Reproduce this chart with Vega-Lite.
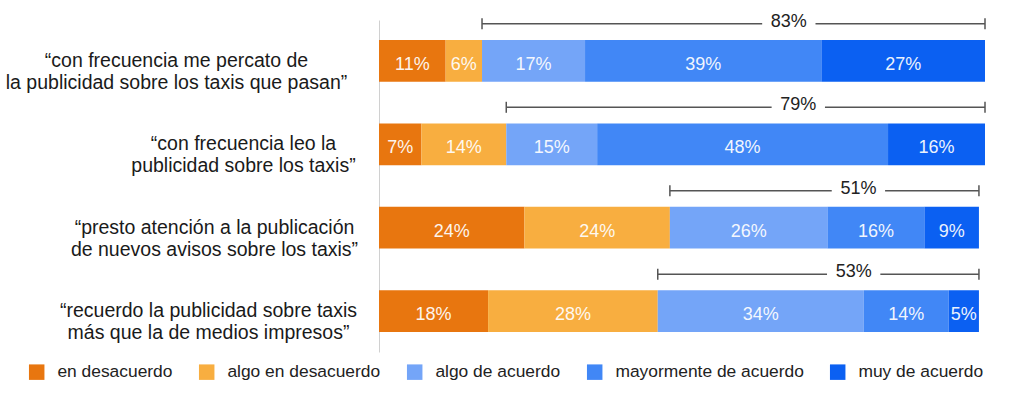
{
  "$schema": "https://vega.github.io/schema/vega-lite/v6.json",
  "width": 606,
  "height": 332,
  "autosize": {"type": "none"},
  "padding": {"left": 379, "top": 20, "right": 39, "bottom": 46},
  "background": "white",
  "config": {"view": {"stroke": null}, "font": "Liberation Sans"},
  "data": {"values": [
    {"question": "“con frecuencia me percato de|la publicidad sobre los taxis que pasan”", "category": "en desacuerdo", "order": 1, "value": 11},
    {"question": "“con frecuencia me percato de|la publicidad sobre los taxis que pasan”", "category": "algo en desacuerdo", "order": 2, "value": 6},
    {"question": "“con frecuencia me percato de|la publicidad sobre los taxis que pasan”", "category": "algo de acuerdo", "order": 3, "value": 17},
    {"question": "“con frecuencia me percato de|la publicidad sobre los taxis que pasan”", "category": "mayormente de acuerdo", "order": 4, "value": 39},
    {"question": "“con frecuencia me percato de|la publicidad sobre los taxis que pasan”", "category": "muy de acuerdo", "order": 5, "value": 27},
    {"question": "“con frecuencia leo la|publicidad sobre los taxis”", "category": "en desacuerdo", "order": 1, "value": 7},
    {"question": "“con frecuencia leo la|publicidad sobre los taxis”", "category": "algo en desacuerdo", "order": 2, "value": 14},
    {"question": "“con frecuencia leo la|publicidad sobre los taxis”", "category": "algo de acuerdo", "order": 3, "value": 15},
    {"question": "“con frecuencia leo la|publicidad sobre los taxis”", "category": "mayormente de acuerdo", "order": 4, "value": 48},
    {"question": "“con frecuencia leo la|publicidad sobre los taxis”", "category": "muy de acuerdo", "order": 5, "value": 16},
    {"question": "“presto atención a la publicación|de nuevos avisos sobre los taxis”", "category": "en desacuerdo", "order": 1, "value": 24},
    {"question": "“presto atención a la publicación|de nuevos avisos sobre los taxis”", "category": "algo en desacuerdo", "order": 2, "value": 24},
    {"question": "“presto atención a la publicación|de nuevos avisos sobre los taxis”", "category": "algo de acuerdo", "order": 3, "value": 26},
    {"question": "“presto atención a la publicación|de nuevos avisos sobre los taxis”", "category": "mayormente de acuerdo", "order": 4, "value": 16},
    {"question": "“presto atención a la publicación|de nuevos avisos sobre los taxis”", "category": "muy de acuerdo", "order": 5, "value": 9},
    {"question": "“recuerdo la publicidad sobre taxis|más que la de medios impresos”", "category": "en desacuerdo", "order": 1, "value": 18},
    {"question": "“recuerdo la publicidad sobre taxis|más que la de medios impresos”", "category": "algo en desacuerdo", "order": 2, "value": 28},
    {"question": "“recuerdo la publicidad sobre taxis|más que la de medios impresos”", "category": "algo de acuerdo", "order": 3, "value": 34},
    {"question": "“recuerdo la publicidad sobre taxis|más que la de medios impresos”", "category": "mayormente de acuerdo", "order": 4, "value": 14},
    {"question": "“recuerdo la publicidad sobre taxis|más que la de medios impresos”", "category": "muy de acuerdo", "order": 5, "value": 5}
  ]},
  "transform": [
    {"stack": "value", "groupby": ["question"], "sort": [{"field": "order", "order": "ascending"}], "as": ["x0", "x1"]},
    {"calculate": "(datum.x0 + datum.x1) / 2", "as": "mid"},
    {"calculate": "datum.value + '%'", "as": "label"}
  ],
  "encoding": {
    "y": {
      "field": "question",
      "type": "nominal",
      "sort": [
        "“con frecuencia me percato de|la publicidad sobre los taxis que pasan”",
        "“con frecuencia leo la|publicidad sobre los taxis”",
        "“presto atención a la publicación|de nuevos avisos sobre los taxis”",
        "“recuerdo la publicidad sobre taxis|más que la de medios impresos”"
      ],
      "scale": {"paddingInner": 0.5, "paddingOuter": 0.24},
      "axis": {
        "title": null,
        "ticks": false,
        "tickSize": 0,
        "domain": true,
        "domainColor": "#d0d0d0",
        "domainWidth": 1,
        "labelExpr": "split(datum.label, '|')",
        "labelAlign": "center",
        "labelBaseline": "middle",
        "labelPadding": {
          "condition": [
            {"test": "indexof(datum.value, 'percato') >= 0", "value": 203},
            {"test": "indexof(datum.value, 'leo la') >= 0", "value": 136},
            {"test": "indexof(datum.value, 'presto') >= 0", "value": 165}
          ],
          "value": 171
        },
        "labelFontSize": 19.5,
        "labelLineHeight": 22,
        "labelColor": "#1a1a1a",
        "labelLimit": 500
      }
    }
  },
  "layer": [
    {
      "mark": {"type": "bar"},
      "encoding": {
        "x": {"field": "x0", "type": "quantitative", "scale": {"domain": [0, 100]}, "axis": null},
        "x2": {"field": "x1"},
        "color": {
          "field": "category",
          "type": "nominal",
          "scale": {
            "domain": ["en desacuerdo", "algo en desacuerdo", "algo de acuerdo", "mayormente de acuerdo", "muy de acuerdo"],
            "range": ["#E8760F", "#F8AE40", "#74A5F8", "#4187F6", "#0B60F2"]
          },
          "legend": {
            "orient": "none",
            "legendX": -351,
            "legendY": 343,
            "direction": "horizontal",
            "title": null,
            "symbolType": "square",
            "symbolSize": 240,
            "symbolStrokeWidth": 0,
            "symbolOpacity": 1,
            "labelFontSize": 17.4,
            "labelColor": "#222222",
            "labelOffset": 12,
            "columnPadding": 25,
            "labelLimit": 400
          }
        }
      }
    },
    {
      "mark": {"type": "text", "color": "white", "fontSize": 18, "baseline": "alphabetic", "yOffset": 9, "opacity": 0.92},
      "encoding": {
        "x": {"field": "mid", "type": "quantitative"},
        "text": {"field": "label"}
      }
    },
    {
      "transform": [
        {"filter": "datum.order >= 3"},
        {"aggregate": [
          {"op": "min", "field": "x0", "as": "start"},
          {"op": "max", "field": "x1", "as": "end"},
          {"op": "sum", "field": "value", "as": "total"}
        ], "groupby": ["question"]},
        {"calculate": "0.39 * datum.start + 0.61 * datum.end", "as": "lpos"},
        {"calculate": "datum.lpos - 4.4", "as": "gapL"},
        {"calculate": "datum.lpos + 4.4", "as": "gapR"},
        {"calculate": "datum.total + '%'", "as": "tlabel"}
      ],
      "layer": [
        {
          "mark": {"type": "rule", "yOffset": -37, "color": "#555555", "strokeWidth": 1.5},
          "encoding": {
            "x": {"field": "start", "type": "quantitative"},
            "x2": {"field": "gapL"}
          }
        },
        {
          "mark": {"type": "rule", "yOffset": -37, "color": "#555555", "strokeWidth": 1.5},
          "encoding": {
            "x": {"field": "gapR", "type": "quantitative"},
            "x2": {"field": "end"}
          }
        },
        {
          "mark": {"type": "tick", "orient": "vertical", "yOffset": -37, "size": 11, "thickness": 1.5, "color": "#555555", "opacity": 1},
          "encoding": {"x": {"field": "start", "type": "quantitative"}}
        },
        {
          "mark": {"type": "tick", "orient": "vertical", "yOffset": -37, "size": 11, "thickness": 1.5, "color": "#555555", "opacity": 1},
          "encoding": {"x": {"field": "end", "type": "quantitative"}}
        },
        {
          "mark": {"type": "text", "yOffset": -34, "baseline": "alphabetic", "fontSize": 18, "color": "#222222"},
          "encoding": {
            "x": {"field": "lpos", "type": "quantitative"},
            "text": {"field": "tlabel"}
          }
        }
      ]
    }
  ]
}
